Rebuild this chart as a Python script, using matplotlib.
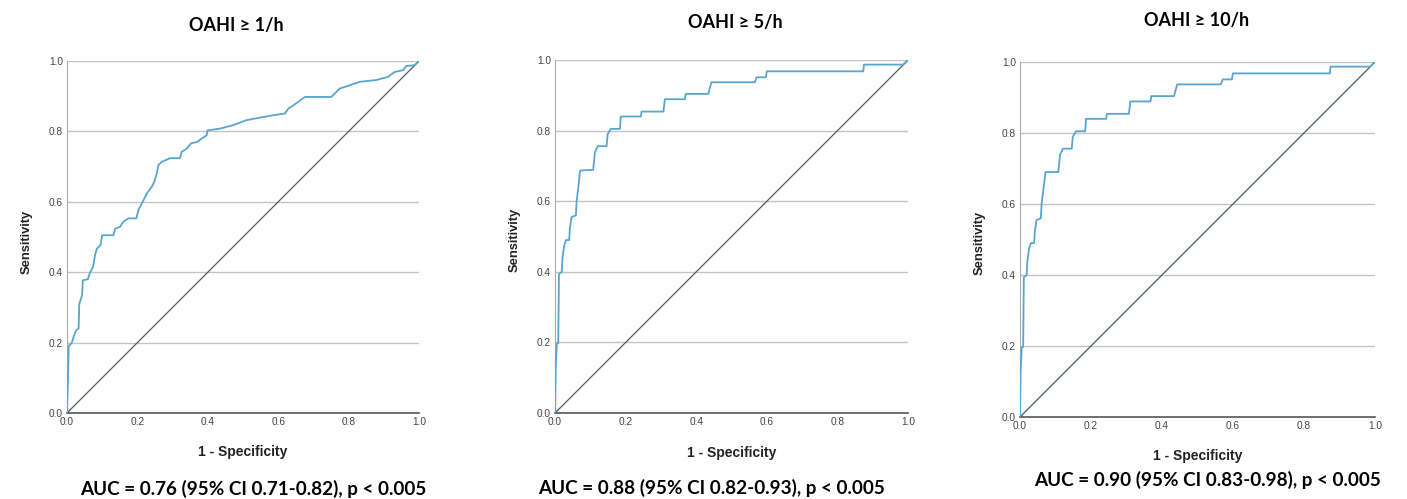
import matplotlib
matplotlib.use("Agg")
import matplotlib.pyplot as plt

# ── ROC curve vertices (1 - specificity, sensitivity) ──
fpr_1h = [0.0, 0.003, 0.005, 0.014, 0.02, 0.026, 0.033, 0.035, 0.043, 0.045, 0.059, 0.066,
          0.074, 0.08, 0.085, 0.095, 0.1, 0.132, 0.137, 0.151, 0.159, 0.175, 0.197, 0.203,
          0.213, 0.227, 0.241, 0.248, 0.255, 0.26, 0.27, 0.293, 0.321, 0.326, 0.34, 0.352,
          0.369, 0.383, 0.397, 0.399, 0.435, 0.473, 0.51, 0.558, 0.586, 0.619, 0.629, 0.643,
          0.657, 0.676, 0.751, 0.775, 0.803, 0.832, 0.879, 0.912, 0.931, 0.955, 0.964, 0.987, 1.0]
tpr_1h = [0.0, 0.1, 0.19, 0.2, 0.22, 0.235, 0.24, 0.31, 0.335, 0.377, 0.38, 0.4,
          0.415, 0.45, 0.467, 0.477, 0.505, 0.505, 0.524, 0.529, 0.543, 0.553, 0.553, 0.577,
          0.596, 0.624, 0.643, 0.657, 0.68, 0.705, 0.714, 0.724, 0.724, 0.742, 0.751, 0.766,
          0.77, 0.78, 0.789, 0.803, 0.808, 0.818, 0.832, 0.841, 0.846, 0.851, 0.865, 0.874,
          0.884, 0.898, 0.898, 0.922, 0.931, 0.941, 0.946, 0.955, 0.969, 0.974, 0.986, 0.988, 1.0]

fpr_5h = [0.0, 0.002, 0.005, 0.009, 0.011, 0.019, 0.021, 0.026, 0.031, 0.04, 0.042, 0.047,
          0.059, 0.061, 0.066, 0.071, 0.108, 0.113, 0.121, 0.146, 0.149, 0.158, 0.184, 0.186,
          0.243, 0.245, 0.307, 0.311, 0.368, 0.37, 0.434, 0.443, 0.566, 0.571, 0.597, 0.6,
          0.873, 0.875, 0.986, 1.0]
tpr_5h = [0.0, 0.13, 0.196, 0.198, 0.394, 0.4, 0.44, 0.475, 0.49, 0.49, 0.524, 0.555,
          0.56, 0.6, 0.64, 0.687, 0.689, 0.739, 0.756, 0.756, 0.79, 0.805, 0.805, 0.84,
          0.84, 0.854, 0.854, 0.889, 0.889, 0.904, 0.904, 0.937, 0.937, 0.951, 0.951, 0.968,
          0.968, 0.987, 0.987, 1.0]

fpr_10h = [0.0, 0.002, 0.005, 0.009, 0.011, 0.019, 0.021, 0.026, 0.031, 0.04, 0.042, 0.047,
           0.059, 0.061, 0.066, 0.072, 0.108, 0.113, 0.121, 0.146, 0.149, 0.158, 0.184, 0.186,
           0.243, 0.245, 0.307, 0.311, 0.368, 0.37, 0.434, 0.443, 0.566, 0.571, 0.597, 0.6,
           0.873, 0.875, 0.986, 1.0]
tpr_10h = [0.0, 0.13, 0.196, 0.198, 0.394, 0.4, 0.44, 0.475, 0.49, 0.49, 0.524, 0.555,
           0.56, 0.6, 0.64, 0.69, 0.69, 0.739, 0.756, 0.756, 0.79, 0.805, 0.805, 0.84,
           0.84, 0.854, 0.854, 0.889, 0.889, 0.904, 0.904, 0.937, 0.937, 0.951, 0.951, 0.968,
           0.968, 0.987, 0.987, 1.0]

titles = ["OAHI ≥ 1/h", "OAHI ≥ 5/h", "OAHI ≥ 10/h"]
auc_texts = ["AUC = 0.76 (95% CI 0.71-0.82), p < 0.005",
             "AUC = 0.88 (95% CI 0.82-0.93), p < 0.005",
             "AUC = 0.90 (95% CI 0.83-0.98), p < 0.005"]
ticks = [0.0, 0.2, 0.4, 0.6, 0.8, 1.0]

CURVE = "#58A6CE"
DIAG = "#4B5B5B"
GRID = "#C4C4C4"
HEAD_FONT = ["Lato", "DejaVu Sans"]

fig = plt.figure(figsize=(14.07, 4.99), dpi=100)

# axes rectangles and text anchors for each panel (figure fractions)
rects = [(0.0476, 0.1723, 0.2502, 0.7054),
         (0.3945, 0.1723, 0.2509, 0.7074),
         (0.7249, 0.1643, 0.2523, 0.7114)]
title_pos = [(0.1677, 0.948), (0.5224, 0.954), (0.8507, 0.958)]
auc_pos = [(0.1798, 0.020), (0.5060, 0.022), (0.8580, 0.038)]
xlab_pos = [(0.1727, 0.094), (0.5200, 0.092), (0.8515, 0.086)]
ylab_pos = [(0.0190, 0.515), (0.3660, 0.519), (0.6965, 0.513)]

curves = [(fpr_1h, tpr_1h), (fpr_5h, tpr_5h), (fpr_10h, tpr_10h)]

for i, (fpr, tpr) in enumerate(curves):
    ax = fig.add_axes(rects[i])
    ax.set_xlim(0, 1)
    ax.set_ylim(0, 1)
    for y in ticks[1:]:
        ax.axhline(y, color=GRID, lw=1.0, zorder=0)
    ax.plot([0, 1], [0, 1], color=DIAG, lw=0.9, zorder=2)
    ax.plot(fpr, tpr, color=CURVE, lw=1.3, zorder=3)

    ax.set_xticks(ticks)
    ax.set_yticks(ticks)
    ax.set_xticklabels([f"{t:.1f}" for t in ticks])
    ax.set_yticklabels([f"{t:.1f}" for t in ticks])
    ax.tick_params(length=0, pad=3, labelsize=7.3, labelcolor="#444444")
    for lbl in ax.get_xticklabels() + ax.get_yticklabels():
        lbl.set_family("Liberation Sans")

    ax.spines["top"].set_visible(False)
    ax.spines["right"].set_visible(False)
    ax.spines["left"].set_color("#AAAAAA")
    ax.spines["bottom"].set_color("#555555")
    ax.spines["bottom"].set_linewidth(1.2)

    fig.text(*title_pos[i], titles[i], ha="center", va="center",
             fontsize=13, fontweight="bold", family=HEAD_FONT)
    fig.text(*auc_pos[i], auc_texts[i], ha="center", va="center",
             fontsize=13.6, fontweight="bold", family=HEAD_FONT)
    fig.text(*xlab_pos[i], "1 - Specificity", ha="center", va="center",
             fontsize=10, fontweight="bold", family="Liberation Sans", color="#222222")
    fig.text(*ylab_pos[i], "Sensitivity", ha="center", va="center", rotation=90,
             fontsize=9.3, fontweight="bold", family="Liberation Sans", color="#222222")

fig.savefig("out.png", dpi=100)
